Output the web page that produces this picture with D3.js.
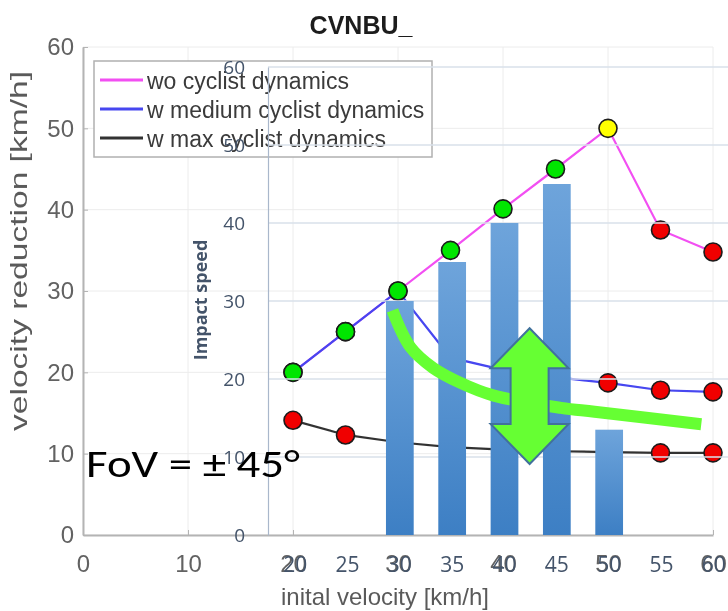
<!DOCTYPE html>
<html>
<head>
<meta charset="utf-8">
<script src="https://cdn.jsdelivr.net/npm/d3@7"></script>
<style>
  html, body { margin: 0; padding: 0; background: #fff; }
  #root { width: 728px; height: 611px; }
</style>
</head>
<body>
<div id="root"></div>
<script>
// background plot: initial velocity vs velocity reduction
const velocities = [20, 25, 30, 35, 40, 45, 50, 55, 60];
const woDynamics = [20.0, 25.0, 30.0, 35.0, 40.1, 45.0, 50.0, 37.5, 34.8];
const mediumDynamics = [20.0, 25.0, 30.0, 21.8, 20.3, 19.4, 18.7, 17.8, 17.6];
const maxDynamics = [14.1, 12.3, 11.4, 10.8, 10.5, 10.3, 10.2, 10.1, 10.1];
const woStatus = ['g', 'g', 'g', 'g', 'g', 'g', 'y', 'r', 'r'];
const mediumStatus = ['g', 'g', 'g', 'r', 'r', 'r', 'r', 'r', 'r'];
const maxStatus = ['r', 'r', 'r', 'r', 'r', 'r', 'r', 'r', 'r'];
const bgTicks = [0, 10, 20, 30, 40, 50, 60];
const seriesNames = ['wo cyclist dynamics', 'w medium cyclist dynamics', 'w max cyclist dynamics'];

// overlay bar chart: impact speed
const impactCategories = ['20', '25', '30', '35', '40', '45', '50', '55', '60'];
const impactSpeed = [0, 0, 30, 35, 40, 45, 13.5, 0, 0];
const impactTicks = [0, 10, 20, 30, 40, 50, 60];

// annotations (in overlay units: velocity, impact speed)
const trendCurve = [[29.3, 28.8], [31.0, 24.1], [33.2, 21.4], [35.8, 19.5],
  [38.9, 17.9], [45.4, 16.3], [48.6, 15.8], [58.8, 14.2]];
const arrowAt = 42.4;
const arrowSpan = [26.5, 9.1];

const statusColor = { g: '#00e600', y: '#ffff00', r: '#f00000' };

const svg = d3.select('#root').append('svg')
  .attr('width', 728)
  .attr('height', 611)
  .style('font-family', 'Arial, "Liberation Sans", sans-serif');

const defs = svg.append('defs');
defs.append('filter').attr('id', 'soft')
  .append('feGaussianBlur').attr('stdDeviation', 0.5);
const grad = defs.append('linearGradient').attr('id', 'barGrad')
  .attr('x1', 0).attr('y1', 0).attr('x2', 0).attr('y2', 1);
grad.append('stop').attr('offset', '0%').attr('stop-color', '#6ea4db');
grad.append('stop').attr('offset', '100%').attr('stop-color', '#3d7fc4');

// ---------- background (matlab style) ----------
const bgX = d3.scaleLinear().domain([0, 60]).range([83, 713]);
const bgY = d3.scaleLinear().domain([0, 60]).range([535, 47]);

const bg = svg.append('g').attr('filter', 'url(#soft)');

bg.append('g').selectAll('line.vg')
  .data(bgTicks)
  .join('line')
    .attr('x1', (d) => bgX(d)).attr('x2', (d) => bgX(d))
    .attr('y1', bgY(0)).attr('y2', bgY(60))
    .attr('stroke', '#ececec');
bg.append('g').selectAll('line.hg')
  .data(bgTicks)
  .join('line')
    .attr('x1', bgX(0)).attr('x2', bgX(60))
    .attr('y1', (d) => bgY(d)).attr('y2', (d) => bgY(d))
    .attr('stroke', '#ececec');

const bgLeft = bg.append('g')
  .attr('transform', `translate(${bgX(0)},0)`)
  .call(d3.axisLeft(bgY).tickValues(bgTicks).tickSize(-5).tickSizeOuter(0).tickPadding(9));
const bgBottom = bg.append('g')
  .attr('transform', `translate(0,${bgY(0)})`)
  .call(d3.axisBottom(bgX).tickValues(bgTicks).tickSize(-5).tickSizeOuter(0).tickPadding(20));
[bgLeft, bgBottom].forEach((ax) => {
  ax.select('.domain').attr('stroke', '#b4b4b4').attr('stroke-width', 2);
  ax.selectAll('.tick line').attr('stroke', '#b4b4b4');
  ax.selectAll('.tick text')
    .attr('fill', '#626262')
    .style('font-size', '24px')
    .style('font-family', 'Arial, "Liberation Sans", sans-serif');
});

bg.append('text')
  .attr('transform', 'translate(27,251) rotate(-90)')
  .attr('text-anchor', 'middle')
  .attr('textLength', 360)
  .attr('lengthAdjust', 'spacingAndGlyphs')
  .attr('fill', '#5a5a5a')
  .style('font-size', '24px')
  .text('velocity reduction [km/h]');

bg.append('text')
  .attr('x', 385).attr('y', 605)
  .attr('text-anchor', 'middle')
  .attr('fill', '#5a5a5a')
  .style('font-size', '24px')
  .text('inital velocity [km/h]');

bg.append('text')
  .attr('x', 361).attr('y', 34)
  .attr('text-anchor', 'middle')
  .attr('fill', '#1e1e1e')
  .style('font-size', '25px')
  .style('font-weight', 'bold')
  .text('CVNBU_');

const series = [
  { name: seriesNames[0], values: woDynamics, status: woStatus, color: '#f24ff2' },
  { name: seriesNames[1], values: mediumDynamics, status: mediumStatus, color: '#4646f0' },
  { name: seriesNames[2], values: maxDynamics, status: maxStatus, color: '#333333' },
];

const line = d3.line()
  .x((d) => bgX(d[0]))
  .y((d) => bgY(d[1]));

series.forEach((s) => {
  const pts = velocities.map((v, i) => [v, s.values[i], s.status[i]]);
  bg.append('path')
    .datum(pts)
    .attr('d', line)
    .attr('fill', 'none')
    .attr('stroke', s.color)
    .attr('stroke-width', 2.2);
  bg.append('g').selectAll('circle')
    .data(pts)
    .join('circle')
      .attr('cx', (d) => bgX(d[0]))
      .attr('cy', (d) => bgY(d[1]))
      .attr('r', 9)
      .attr('fill', (d) => statusColor[d[2]])
      .attr('stroke', '#1a1a1a')
      .attr('stroke-width', 1.6);
});

// legend
const legend = bg.append('g');
legend.append('rect')
  .attr('x', 94).attr('y', 61)
  .attr('width', 338).attr('height', 96)
  .attr('fill', '#fff')
  .attr('stroke', '#b0b0b0')
  .attr('stroke-width', 1.5);
series.forEach((s, i) => {
  const yy = 80 + i * 29;
  legend.append('line')
    .attr('x1', 100).attr('x2', 143)
    .attr('y1', yy).attr('y2', yy)
    .attr('stroke', s.color)
    .attr('stroke-width', 3);
  legend.append('text')
    .attr('x', 147).attr('y', yy + 9)
    .attr('fill', '#3a3a3a')
    .style('font-size', '23px')
    .text(s.name);
});

// ---------- overlay (excel style bar chart) ----------
const ovX = d3.scaleBand()
  .domain(impactCategories)
  .range([269, 740])
  .paddingInner(0.47)
  .paddingOuter(0.235);
const ovY = d3.scaleLinear().domain([0, 60]).range([535, 67]);
const ovV = d3.scaleLinear()
  .domain([20, 60])
  .range([ovX('20') + ovX.bandwidth() / 2, ovX('60') + ovX.bandwidth() / 2]);

const ov = svg.append('g');

ov.append('g').selectAll('line')
  .data(impactTicks.slice(1))
  .join('line')
    .attr('x1', 268).attr('x2', 728)
    .attr('y1', (d) => ovY(d)).attr('y2', (d) => ovY(d))
    .attr('stroke', '#d9e0ea')
    .attr('stroke-width', 1.5);

const ovLeft = ov.append('g')
  .attr('transform', 'translate(268,0)')
  .call(d3.axisLeft(ovY).tickValues(impactTicks).tickSize(0).tickPadding(23));
ovLeft.select('.domain').attr('stroke', '#a9b7cb').attr('stroke-width', 1.2);
ovLeft.selectAll('.tick text')
  .attr('fill', '#44546a')
  .style('font-size', '19px')
  .style('font-family', '"Open Sans", sans-serif');

const ovBottom = ov.append('g')
  .attr('transform', `translate(0,${ovY(0)})`)
  .call(d3.axisBottom(ovX).tickSize(0).tickPadding(22));
ovBottom.select('.domain').remove();
ovBottom.selectAll('.tick text')
  .attr('fill', '#44546a')
  .style('font-size', '21px')
  .style('font-family', '"Open Sans", sans-serif');

ov.append('text')
  .attr('transform', 'translate(207,300) rotate(-90)')
  .attr('text-anchor', 'middle')
  .attr('fill', '#44546a')
  .style('font-size', '18px')
  .style('font-weight', 'bold')
  .style('font-family', '"Open Sans", sans-serif')
  .text('Impact speed');

ov.append('g').selectAll('rect')
  .data(impactCategories.map((c, i) => ({ c, v: impactSpeed[i] })).filter((d) => d.v > 0))
  .join('rect')
    .attr('x', (d) => ovX(d.c))
    .attr('y', (d) => ovY(d.v))
    .attr('width', ovX.bandwidth())
    .attr('height', (d) => ovY(0) - ovY(d.v))
    .attr('fill', 'url(#barGrad)');

// trend curve
ov.append('path')
  .datum(trendCurve)
  .attr('d', d3.line()
    .x((d) => ovV(d[0]))
    .y((d) => ovY(d[1]))
    .curve(d3.curveCatmullRom))
  .attr('fill', 'none')
  .attr('stroke', '#66ff33')
  .attr('stroke-width', 12);

// double arrow
const ax = ovV(arrowAt);
const yTop = ovY(arrowSpan[0]);
const yBot = ovY(arrowSpan[1]);
const headW = 39, shaftW = 19, headH = 40;
const arrowPath = d3.path();
arrowPath.moveTo(ax, yTop);
arrowPath.lineTo(ax + headW, yTop + headH);
arrowPath.lineTo(ax + shaftW, yTop + headH);
arrowPath.lineTo(ax + shaftW, yBot - headH);
arrowPath.lineTo(ax + headW, yBot - headH);
arrowPath.lineTo(ax, yBot);
arrowPath.lineTo(ax - headW, yBot - headH);
arrowPath.lineTo(ax - shaftW, yBot - headH);
arrowPath.lineTo(ax - shaftW, yTop + headH);
arrowPath.lineTo(ax - headW, yTop + headH);
arrowPath.closePath();
ov.append('path')
  .attr('d', arrowPath.toString())
  .attr('fill', '#66ff33')
  .attr('stroke', '#41719c')
  .attr('stroke-width', 2)
  .attr('stroke-linejoin', 'miter');

// field of view note
svg.append('text')
  .attr('x', 86).attr('y', 477)
  .attr('textLength', 214)
  .attr('lengthAdjust', 'spacingAndGlyphs')
  .attr('fill', '#000')
  .style('font-size', '39px')
  .style('font-family', 'Carlito, Calibri, "Open Sans", sans-serif')
  .text('FoV = ± 45°');
</script>
</body>
</html>
